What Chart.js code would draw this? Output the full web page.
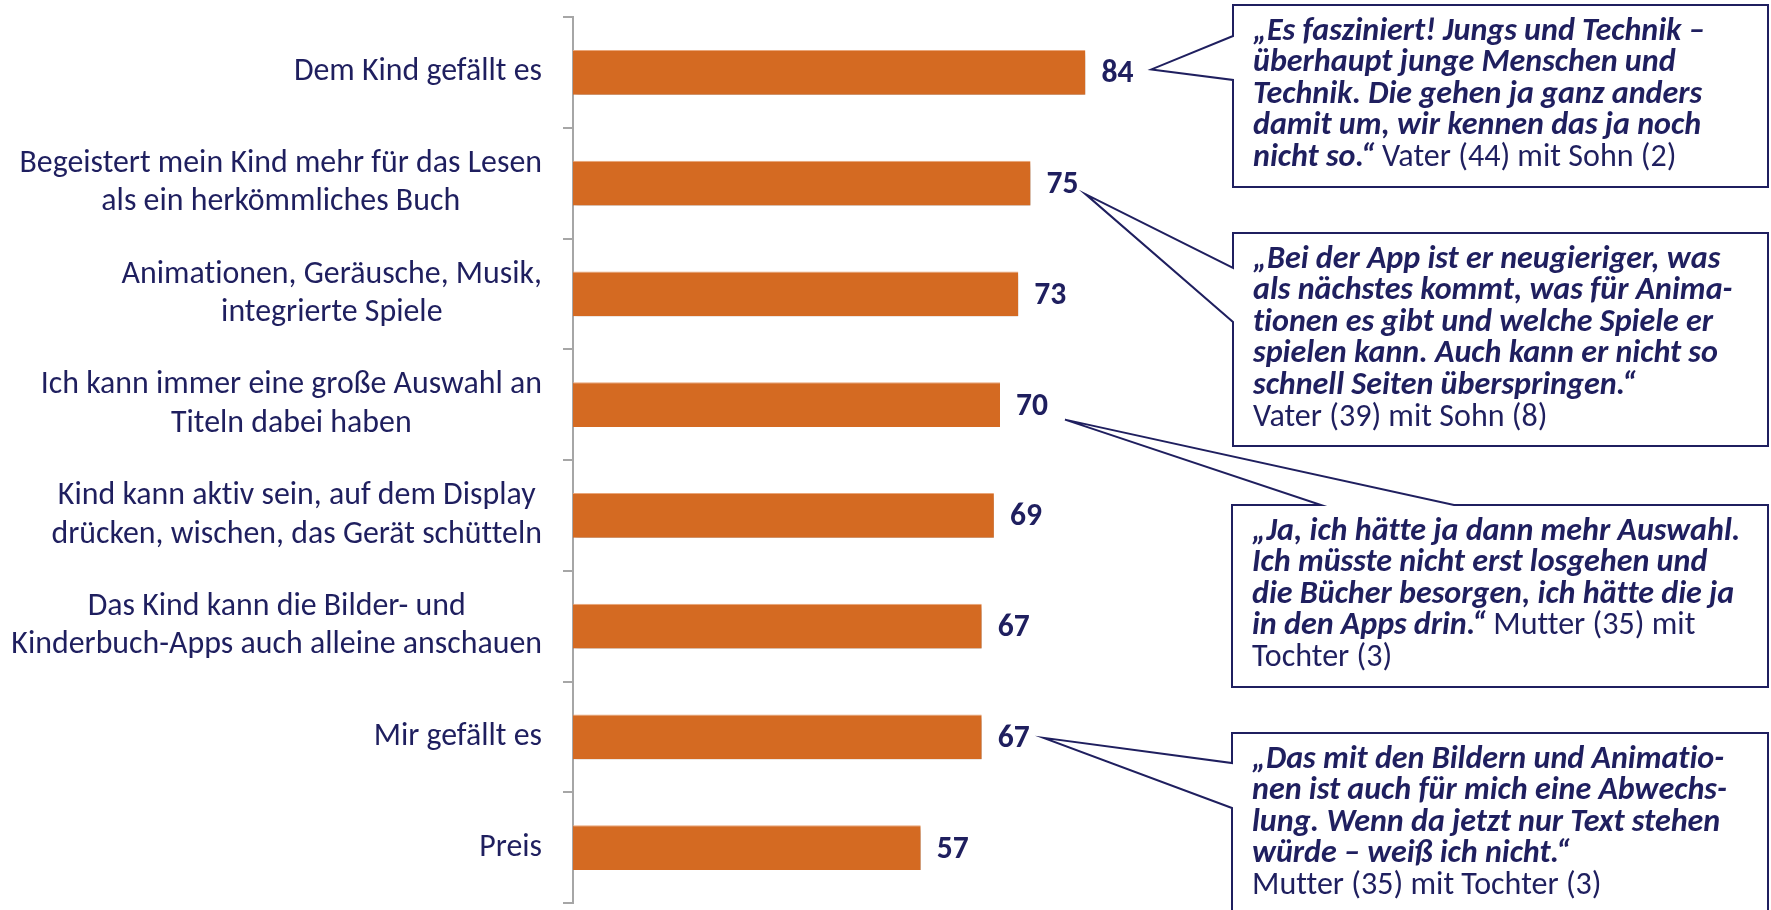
<!DOCTYPE html>
<html>
<head>
<meta charset="utf-8">
<script src="https://cdn.jsdelivr.net/npm/chart.js@4.4.1/dist/chart.umd.min.js"></script>
<style>
  html, body { margin: 0; padding: 0; background: #fff; }
</style>
</head>
<body>
<canvas id="chart" width="1771" height="910"></canvas>
<script>
// Categories (one entry per bar, split into the lines shown)
const categories = [
    ['Dem Kind gefällt es'],
    ['Begeistert mein Kind mehr für das Lesen', 'als ein herkömmliches Buch'],
    ['Animationen, Geräusche, Musik,', 'integrierte Spiele'],
    ['Ich kann immer eine große Auswahl an', 'Titeln dabei haben'],
    ['Kind kann aktiv sein, auf dem Display', 'drücken, wischen, das Gerät schütteln'],
    ['Das Kind kann die Bilder- und', 'Kinderbuch-Apps auch alleine anschauen'],
    ['Mir gefällt es'],
    ['Preis']
];
const values = [84, 75, 73, 70, 69, 67, 67, 57];

// Quotes: lines of [style, text] segments ('bi' = bold italic, 'r' = regular)
const quote1 = [
    [['bi', '„Es fasziniert! Jungs und Technik –']],
    [['bi', 'überhaupt junge Menschen und']],
    [['bi', 'Technik. Die gehen ja ganz anders']],
    [['bi', 'damit um, wir kennen das ja noch']],
    [['bi', 'nicht so.“ '], ['r', 'Vater (44) mit Sohn (2)']]
];
const quote2 = [
    [['bi', '„Bei der App ist er neugieriger, was']],
    [['bi', 'als nächstes kommt, was für Anima-']],
    [['bi', 'tionen es gibt und welche Spiele er']],
    [['bi', 'spielen kann. Auch kann er nicht so']],
    [['bi', 'schnell Seiten überspringen.“']],
    [['r', 'Vater (39) mit Sohn (8)']]
];
const quote3 = [
    [['bi', '„Ja, ich hätte ja dann mehr Auswahl.']],
    [['bi', 'Ich müsste nicht erst losgehen und']],
    [['bi', 'die Bücher besorgen, ich hätte die ja']],
    [['bi', 'in den Apps drin.“ '], ['r', 'Mutter (35) mit']],
    [['r', 'Tochter (3)']]
];
const quote4 = [
    [['bi', '„Das mit den Bildern und Animatio-']],
    [['bi', 'nen ist auch für mich eine Abwechs-']],
    [['bi', 'lung. Wenn da jetzt nur Text stehen']],
    [['bi', 'würde – weiß ich nicht.“']],
    [['r', 'Mutter (35) mit Tochter (3)']]
];

// Style / layout
const FONT = 'Carlito, Lato, "Open Sans", sans-serif';
const NAVY = '#1f1f5f';
const BAR_COLOR = '#d46a22';
const AXIS_COLOR = '#a6a6a6';

// callout boxes: which bar they point to, tip offset from value label end, box and wedge
const callouts = [
    { bar: 0, dx: 18, dy: -3, box: [1233, 5, 535, 182], side: 'left', a: [36, 80], lines: quote1 },
    { bar: 1, dx: 7, dy: 11, box: [1233, 233, 535, 213], side: 'left', a: [268, 322], lines: quote2 },
    { bar: 3, dx: 17, dy: 15, box: [1232, 505, 536, 182], side: 'top', a: [1321, 1454], lines: quote3 },
    { bar: 6, dx: 14, dy: 1, box: [1232, 733, 536, 210], side: 'left', a: [763, 808], lines: quote4 }
];

// no ligatures, like the original slide text
function plainText(c) {
    if ('textRendering' in c) c.textRendering = 'optimizeSpeed';
}

// font sizes fitted to the measured text widths of the original
function fitSize(ctx, text, style, target) {
    plainText(ctx);
    ctx.font = `${style} 100px ${FONT}`;
    return 100 * target / ctx.measureText(text).width;
}

const ctx = document.getElementById('chart').getContext('2d');
const catSize = fitSize(ctx, 'Kinderbuch-Apps auch alleine anschauen', '', 531);
const valueSize = fitSize(ctx, '84', 'bold', 32);
const quoteSize = fitSize(ctx, '„Es fasziniert! Jungs und Technik –', 'italic bold', 452);
const CAT_LINE = 38.5;
const QUOTE_LINE = 31.6;

const labelEnds = [];

const barShadow = {
    id: 'barShadow',
    beforeDatasetsDraw(chart) {
        const c = chart.ctx;
        c.save();
        c.shadowColor = 'rgba(0,0,0,0.32)';
        c.shadowBlur = 5;
        c.shadowOffsetX = 2;
        c.shadowOffsetY = 4;
    },
    afterDatasetsDraw(chart) {
        chart.ctx.restore();
    }
};

const categoryLabels = {
    id: 'categoryLabels',
    afterDraw(chart) {
        const c = chart.ctx;
        const yScale = chart.scales.y;
        const right = yScale.right - 31;
        c.save();
        plainText(c);
        c.font = `${catSize}px ${FONT}`;
        c.fillStyle = NAVY;
        c.textAlign = 'center';
        c.textBaseline = 'middle';
        categories.forEach((lines, i) => {
            const y = yScale.getPixelForValue(i);
            const w = Math.max(...lines.map(l => c.measureText(l).width));
            const cx = right - w / 2;
            const y0 = y - (lines.length - 1) * CAT_LINE / 2;
            lines.forEach((l, k) => c.fillText(l, cx, y0 + k * CAT_LINE));
        });
        c.restore();
    }
};

const valueLabels = {
    id: 'valueLabels',
    afterDraw(chart) {
        const c = chart.ctx;
        const meta = chart.getDatasetMeta(0);
        c.save();
        plainText(c);
        c.font = `bold ${valueSize}px ${FONT}`;
        c.fillStyle = NAVY;
        c.textAlign = 'left';
        c.textBaseline = 'middle';
        meta.data.forEach((bar, i) => {
            const txt = String(values[i]);
            const x = bar.x + 16;
            c.fillText(txt, x, bar.y + 2);
            labelEnds[i] = { x: x + c.measureText(txt).width, y: bar.y };
        });
        c.restore();
    }
};

const calloutPlugin = {
    id: 'callouts',
    afterDraw(chart) {
        const c = chart.ctx;
        c.save();
        plainText(c);
        callouts.forEach(co => {
            const [x, y, w, h] = co.box;
            const end = labelEnds[co.bar];
            const tx = end.x + co.dx;
            const ty = end.y + co.dy;

            c.beginPath();
            c.moveTo(x, y);
            if (co.side === 'top') {
                c.lineTo(co.a[0], y);
                c.lineTo(tx, ty);
                c.lineTo(co.a[1], y);
            }
            c.lineTo(x + w, y);
            c.lineTo(x + w, y + h);
            c.lineTo(x, y + h);
            if (co.side === 'left') {
                c.lineTo(x, co.a[1]);
                c.lineTo(tx, ty);
                c.lineTo(x, co.a[0]);
            }
            c.closePath();
            c.fillStyle = '#fff';
            c.fill();
            c.lineWidth = 2;
            c.strokeStyle = NAVY;
            c.lineJoin = 'miter';
            c.stroke();

            c.fillStyle = NAVY;
            c.textAlign = 'left';
            c.textBaseline = 'middle';
            co.lines.forEach((segs, k) => {
                let cx = x + 20;
                const ly = y + 26.5 + k * QUOTE_LINE;
                segs.forEach(([style, text]) => {
                    c.font = style === 'bi' ? `italic bold ${quoteSize}px ${FONT}` : `${quoteSize}px ${FONT}`;
                    c.fillText(text, cx, ly);
                    cx += c.measureText(text).width;
                });
            });
        });
        c.restore();
    }
};

new Chart(ctx, {
    type: 'bar',
    data: {
        labels: categories.map(c => c.join(' ')),
        datasets: [{
            data: values,
            backgroundColor: BAR_COLOR,
            borderColor: '#eba77a',
            borderWidth: { top: 1, right: 0, bottom: 0, left: 0 },
            borderSkipped: false,
            barPercentage: 0.405,
            categoryPercentage: 1
        }]
    },
    options: {
        indexAxis: 'y',
        responsive: false,
        animation: false,
        layout: { padding: { top: 17, bottom: 7, left: 0, right: 588 } },
        plugins: {
            legend: { display: false },
            tooltip: { enabled: false }
        },
        scales: {
            x: { type: 'linear', min: 0, max: 100, display: false },
            y: {
                type: 'category',
                offset: true,
                grid: {
                    offset: true,
                    drawOnChartArea: false,
                    drawTicks: true,
                    tickLength: 10,
                    color: AXIS_COLOR,
                    lineWidth: 2
                },
                border: { display: true, color: AXIS_COLOR, width: 2 },
                ticks: { display: false },
                afterFit: s => { s.width = 573; }
            }
        }
    },
    plugins: [barShadow, categoryLabels, valueLabels, calloutPlugin]
});
</script>
</body>
</html>
